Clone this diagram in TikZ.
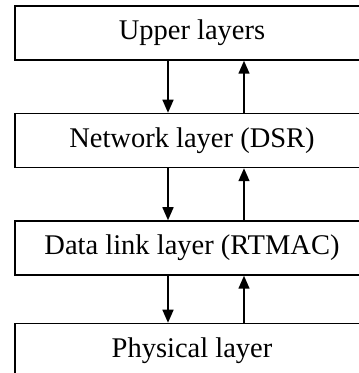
\documentclass[tikz,border=0pt]{standalone}
\usepackage{fontspec}
\setmainfont{Liberation Serif}
\usetikzlibrary{arrows.meta, positioning}

\tikzset{
  layerbox/.style={draw, line width=1.5pt, minimum width=354pt, minimum height=54pt,
    inner sep=0pt, font=\fontsize{28.5}{34}\selectfont}
}

\begin{document}
\begin{tikzpicture}[>={Triangle[length=13pt, width=11pt]}, x=1pt, y=1pt, line width=1.5pt]
  \useasboundingbox (0,0) rectangle (359,373);
  % Nodes
	\node[layerbox] (U) at (192,340) {Upper layers};
	\node[layerbox, below=52pt of U] (N) {Network layer (DSR)};
	\node[layerbox, below=52pt of N] (D) {Data link layer (RTMAC)};
	\node[layerbox, below=47pt of D] (P) {Physical layer};

  % Arrows (down on the left, up on the right)
	\draw[->] ([xshift=-24pt]U.south) -- ([xshift=-24pt]N.north);
	\draw[->] ([xshift=52pt]N.north) -- ([xshift=52pt]U.south);

	\draw[->] ([xshift=-24pt]N.south) -- ([xshift=-24pt]D.north);
	\draw[->] ([xshift=52pt]D.north) -- ([xshift=52pt]N.south);

	\draw[->] ([xshift=-24pt]D.south) -- ([xshift=-24pt]P.north);
	\draw[->] ([xshift=52pt]P.north) -- ([xshift=52pt]D.south);
\end{tikzpicture}
\end{document}
